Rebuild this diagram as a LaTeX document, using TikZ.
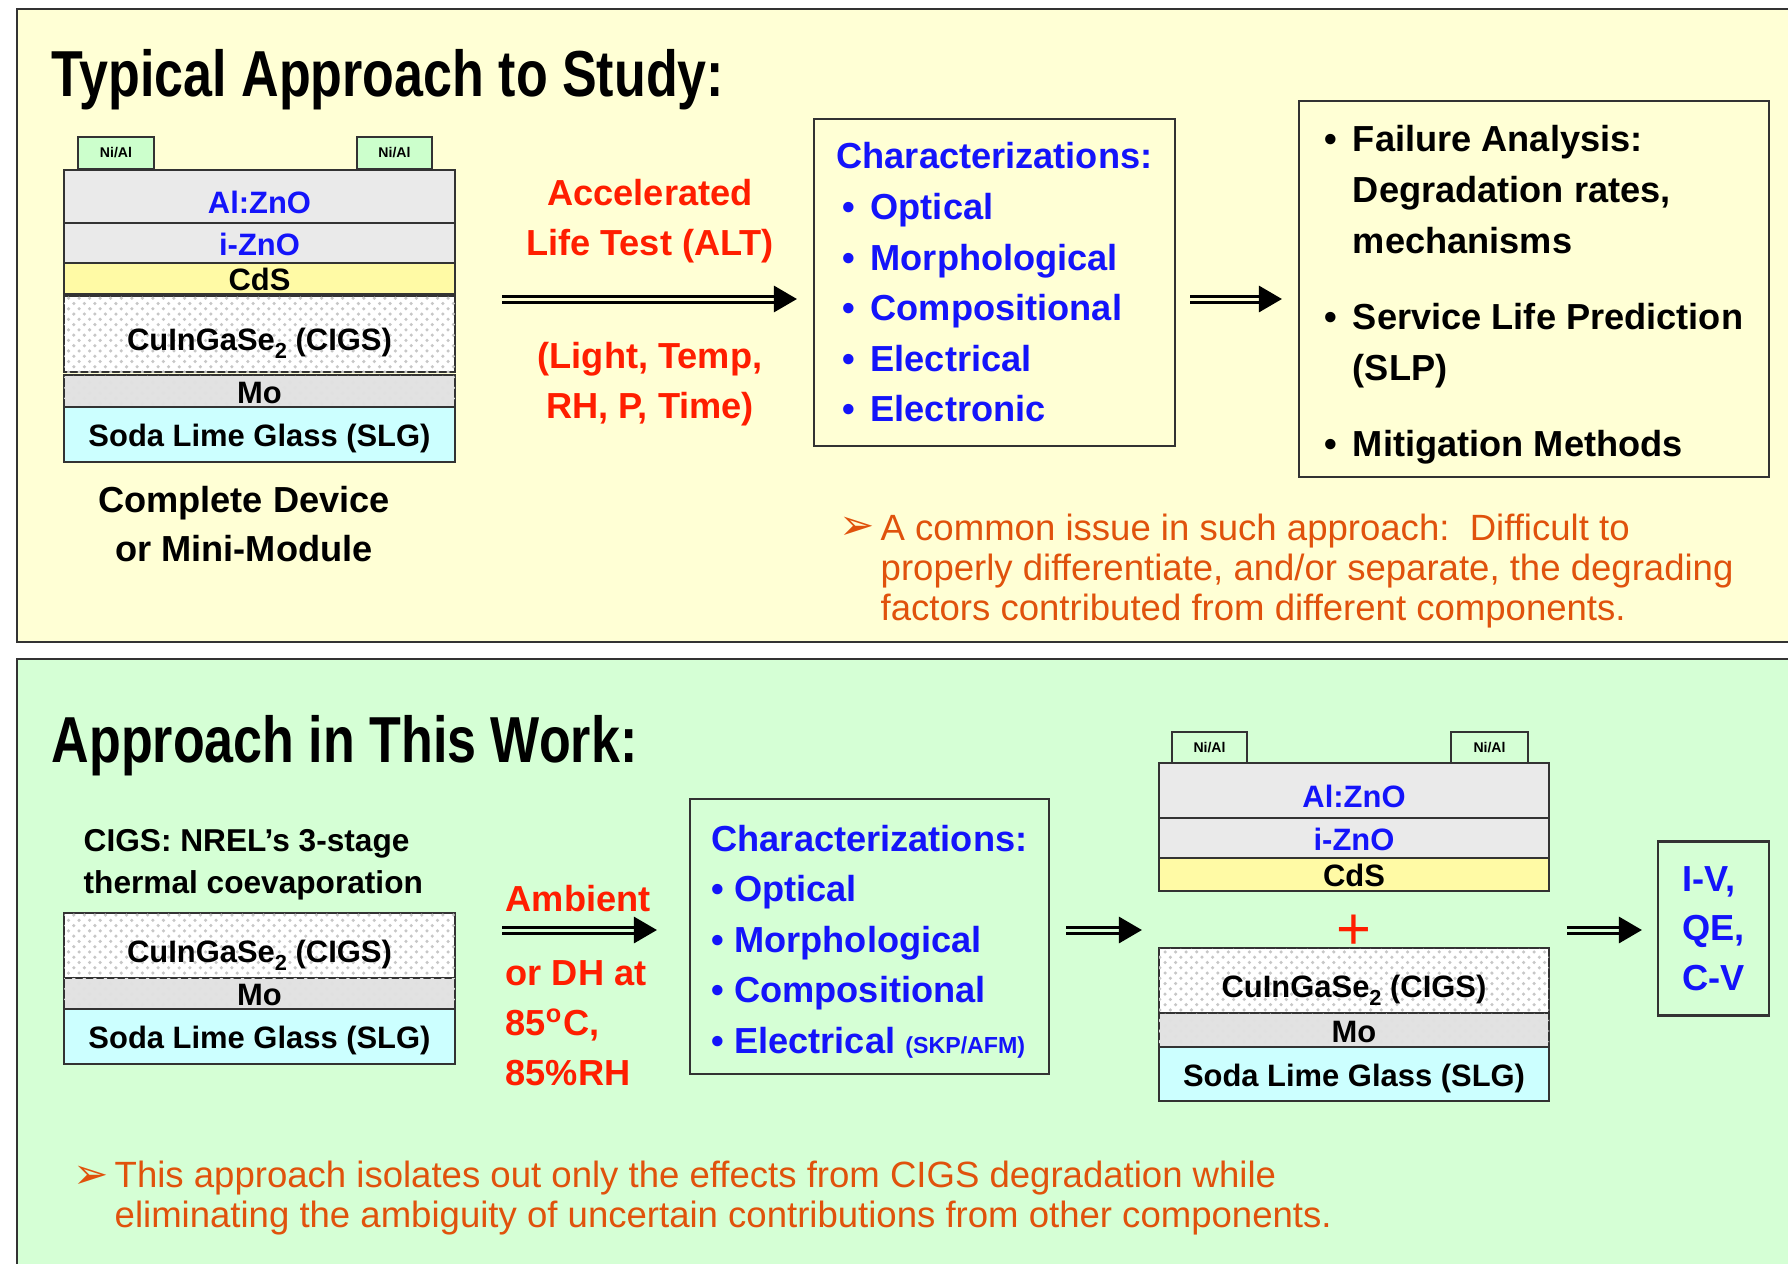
\documentclass[tikz,border=0pt]{standalone}
\usepackage{fontspec}
\setmainfont{Liberation Sans}
\newfontfamily\titlefont{Liberation Sans}[FakeStretch=0.8]
\newfontfamily\symfont{DejaVu Sans}
\usepackage{tikz}
\usetikzlibrary{arrows.meta,shapes,positioning,patterns}
\usepackage{xcolor}
\definecolor{topbg}{RGB}{255,255,213}
\definecolor{botbg}{RGB}{213,255,213}
\definecolor{padgreen}{RGB}{204,255,204}
\definecolor{znogrey}{RGB}{234,234,234}
\definecolor{cdsyellow}{RGB}{255,250,165}
\definecolor{slgcyan}{RGB}{204,255,255}
\definecolor{mogrey}{RGB}{226,226,226}
\definecolor{txtblue}{RGB}{20,20,250}
\definecolor{txtred}{RGB}{255,30,0}
\definecolor{noteorange}{RGB}{224,82,12}
\tikzstyle{heading} = [font=\titlefont\fontsize{18.5}{22}\selectfont\bfseries, inner sep=0pt]
\tikzstyle{stacklayer} = [rectangle, draw=black!80, line width=0.6pt, minimum width=39.1mm, inner sep=0pt, text height=6.9pt, text depth=0pt, font=\fontsize{8.8}{10}\selectfont\bfseries]
\tikzstyle{thicklayer} = [stacklayer, text height=9.5pt]
\tikzstyle{contact} = [rectangle, draw=black!80, line width=0.6pt, minimum height=3.2mm, inner sep=0pt, font=\fontsize{4}{5}\selectfont\bfseries]
\tikzstyle{cigslayer} = [thicklayer, fill=white, postaction={pattern=crosshatch dots, pattern color=black!22}]
\tikzstyle{molayer} = [stacklayer, fill=mogrey, postaction={pattern=crosshatch dots, pattern color=black!12}]
\tikzstyle{charbox} = [rectangle, draw=black!80, line width=0.6pt, align=left, font=\fontsize{10.3}{14.4}\selectfont\bfseries]
\tikzstyle{redlabel} = [text=txtred, font=\fontsize{10.3}{14.3}\selectfont\bfseries, inner sep=0pt]
\tikzstyle{notetext} = [text=noteorange, align=left, anchor=west, inner sep=0pt, font=\fontsize{10.4}{11.3}\selectfont]
\tikzstyle{notetip} = [text=noteorange, inner sep=0pt, font=\symfont\fontsize{12}{12}\selectfont]
\tikzstyle{dblarrow} = [black, line width=0.3mm, double distance=0.3mm, -{Triangle[length=2.3mm,width=2.6mm]}]
\newcommand{\bul}{\makebox[8pt][l]{\textbullet}}
\newcommand{\ind}{\hspace*{8pt}}
\newcommand{\subtwo}{\raisebox{-0.5ex}{\fontsize{6.2}{6.2}\selectfont 2}}

\begin{document}
\begin{tikzpicture}[x=0.1mm, y=-0.1mm]
\useasboundingbox (0,0) rectangle (1788,1263);
\clip (0,0) rectangle (1788,1263);

% Panels
\draw[black!80, line width=0.8pt, fill=topbg] (17,9) rectangle (1800,642);
\draw[black!80, line width=0.8pt, fill=botbg] (17,659) rectangle (1800,1290);

% ---------------- Typical approach ----------------
\node[heading, anchor=base west] (title1) at (51,96) {Typical Approach to Study:};

% Complete device
\node[contact, fill=padgreen, minimum width=7.6mm] (padA) at (116,153) {Ni/Al};
\node[contact, fill=padgreen, minimum width=7.5mm] (padB) at (394.5,153) {Ni/Al};
\node[thicklayer, fill=znogrey, minimum height=5.3mm, text=txtblue] (azo1) at (259.5,196.5) {Al:ZnO};
\node[stacklayer, fill=znogrey, minimum height=4.0mm, text=txtblue] (izo1) at (259.5,243) {i-ZnO};
\node[stacklayer, fill=cdsyellow, minimum height=3.1mm] (cds1) at (259.5,278.5) {CdS};
\node[cigslayer, minimum height=7.6mm] (cigs1) at (259.5,334) {CuInGaSe\subtwo{} (CIGS)};
\node[molayer, minimum height=3.2mm] (mo1) at (259.5,391) {Mo};
\node[stacklayer, fill=slgcyan, minimum height=5.5mm] (slg1) at (259.5,434.5) {Soda Lime Glass (SLG)};
\node[font=\fontsize{10.3}{14}\selectfont\bfseries, align=center] (dev1) at (244,524) {Complete Device\\or Mini-Module};

% ALT
\node[redlabel, align=center] (alt1) at (650,221.5) {Accelerated\\Life Test (ALT)};
\node[redlabel, align=center] (alt2) at (650,384.5) {(Light, Temp,\\RH, P, Time)};

% Characterizations
\node[charbox, text=txtblue, minimum width=36.1mm, minimum height=32.7mm] (char1) at (994.5,282.5)
  {Characterizations:\\
   \hspace*{1.7pt}\bul Optical\\
   \hspace*{1.7pt}\bul Morphological\\
   \hspace*{1.7pt}\bul Compositional\\
   \hspace*{1.7pt}\bul Electrical\\
   \hspace*{1.7pt}\bul Electronic};

% Results
\node[charbox, minimum width=47.0mm, minimum height=37.6mm] (res1) at (1534,289)
  {\rule{0pt}{10.9pt}\bul Failure Analysis:\\
   \ind Degradation rates,\\
   \ind mechanisms\\[7.4pt]
   \bul Service Life Prediction\\
   \ind (SLP)\\[7.4pt]
   \bul Mitigation Methods};

% Arrows
\coordinate (row1) at (0,299);
\coordinate (a1) at (502,299);
\draw[dblarrow, double=topbg, shorten >=1.6mm] (a1) -- (a1 -| char1.west);
\draw[dblarrow, double=topbg, shorten <=1.4mm, shorten >=1.6mm] (char1.east |- row1) -- (res1.west |- row1);

% Note
\node[notetip] (tip1) at (857,528) {➢};
\node[notetext] (note1) at (880,571) {A common issue in such approach:\ \ Difficult to\\properly differentiate, and/or separate, the degrading\\factors contributed from different components.};

% ---------------- This work ----------------
\node[heading, anchor=base west] (title2) at (51,762) {Approach in This Work:};

\node[font=\fontsize{9}{12}\selectfont\bfseries, align=left, anchor=west, inner sep=0pt] (cigsinfo) at (83,864.5) {CIGS: NREL’s 3-stage\\thermal coevaporation};

% CIGS on Mo/SLG
\node[cigslayer, minimum height=6.5mm] (cigs2) at (259.5,945.5) {CuInGaSe\subtwo{} (CIGS)};
\node[molayer, minimum height=3.1mm] (mo2) at (259.5,993.5) {Mo};
\node[stacklayer, fill=slgcyan, minimum height=5.5mm] (slg2) at (259.5,1036.5) {Soda Lime Glass (SLG)};

% Exposure
\node[redlabel, anchor=west] (amb1) at (505,899) {Ambient};
\node[redlabel, anchor=west, align=left] (amb2) at (505,1023) {or DH at\\85\textsuperscript{o}C,\\85\%RH};

% Characterizations
\node[charbox, text=txtblue, minimum width=35.9mm, minimum height=27.5mm] (char2) at (869.5,936.5)
  {\rule{0pt}{10.4pt}Characterizations:\\
   \textbullet\ Optical\\
   \textbullet\ Morphological\\
   \textbullet\ Compositional\\
   \textbullet\ Electrical {\fontsize{6.6}{8}\selectfont (SKP/AFM)}};

% Completed device
\node[contact, minimum width=7.5mm, minimum height=3.1mm] (padC) at (1209.5,747.5) {Ni/Al};
\node[contact, minimum width=7.7mm, minimum height=3.1mm] (padD) at (1489.5,747.5) {Ni/Al};
\node[thicklayer, fill=znogrey, minimum width=39mm, minimum height=5.5mm, text=txtblue] (azo3) at (1354,790.5) {Al:ZnO};
\node[stacklayer, fill=znogrey, minimum width=39mm, minimum height=4.0mm, text=txtblue] (izo3) at (1354,838) {i-ZnO};
\node[stacklayer, fill=cdsyellow, minimum width=39mm, minimum height=3.3mm] (cds3) at (1354,874.5) {CdS};
\node[text=txtred, inner sep=0pt, font=\fontsize{17}{17}\selectfont] (plus) at (1354,932) {+};
\node[cigslayer, minimum width=39mm, minimum height=6.5mm] (cigs3) at (1354,980.5) {CuInGaSe\subtwo{} (CIGS)};
\node[molayer, minimum width=39mm, minimum height=3.4mm] (mo3) at (1354,1030) {Mo};
\node[stacklayer, fill=slgcyan, minimum width=39mm, minimum height=5.4mm] (slg3) at (1354,1074) {Soda Lime Glass (SLG)};

% Device tests
\node[charbox, text=txtblue, minimum width=11.1mm, minimum height=17.4mm, font=\fontsize{10.3}{14.1}\selectfont\bfseries] (iv) at (1713.5,928.5) {I-V,\\QE,\\C-V};

% Arrows
\coordinate (row2) at (0,930);
\coordinate (a3) at (502,930);
\draw[dblarrow, double=botbg, shorten >=3.2mm] (a3) -- (a3 -| char2.west);
\draw[dblarrow, double=botbg, shorten <=1.6mm, shorten >=1.6mm] (char2.east |- row2) -- (cigs3.west |- row2);
\draw[dblarrow, double=botbg, shorten <=1.7mm, shorten >=1.5mm] (cigs3.east |- row2) -- (iv.west |- row2);

% Note
\node[notetip] (tip2) at (91,1177) {➢};
\node[notetext] (note2) at (114,1198) {This approach isolates out only the effects from CIGS degradation while\\eliminating the ambiguity of uncertain contributions from other components.};
\end{tikzpicture}
\end{document}
